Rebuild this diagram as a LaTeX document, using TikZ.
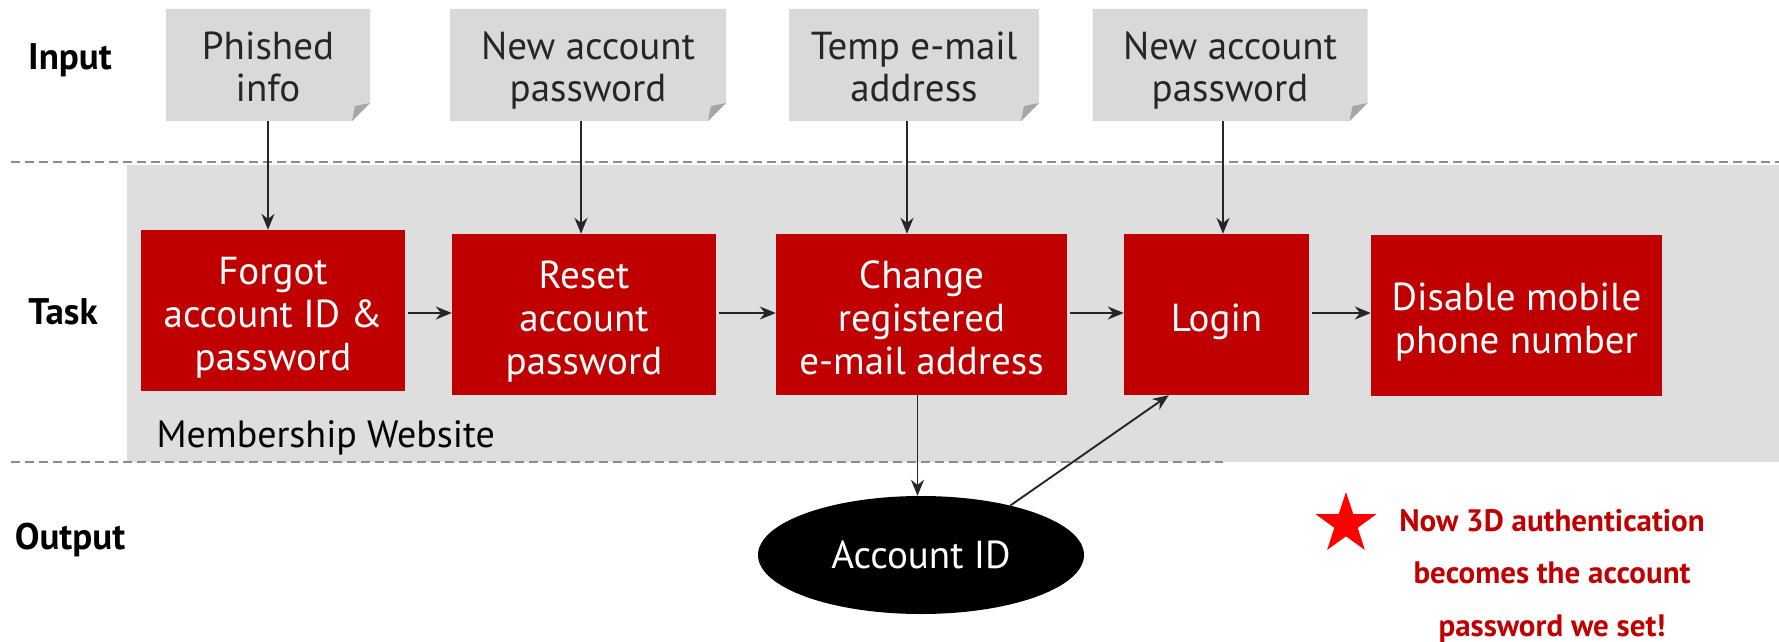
\documentclass[tikz,border=0pt]{standalone}
\usepackage{fontspec}
\setmainfont{PT Sans}
\usetikzlibrary{shapes.geometric,arrows.meta,calc}
\definecolor{boxred}{HTML}{C00000}
\definecolor{notegray}{HTML}{D9D9D9}
\definecolor{foldgray}{HTML}{A6A6A6}
\definecolor{panelgray}{HTML}{DEDEDE}
\definecolor{dashgray}{HTML}{8C8C8C}
\definecolor{arrowcol}{HTML}{262626}
\begin{document}
\begin{tikzpicture}[x=1pt,y=-1pt,
  notebox/.style={minimum height=112pt,inner sep=0pt,align=center,
    font=\fontsize{39}{42}\selectfont,text=black!85,text height=76pt,text depth=4pt,
    path picture={
      \fill[notegray] (path picture bounding box.north west) -- (path picture bounding box.north east)
        -- ([yshift=18pt]path picture bounding box.south east) -- ([xshift=-18pt]path picture bounding box.south east)
        -- (path picture bounding box.south west) -- cycle;
      \fill[foldgray] ([yshift=18pt]path picture bounding box.south east) -- ([xshift=-18pt]path picture bounding box.south east)
        -- ([xshift=-15pt,yshift=15pt]path picture bounding box.south east) -- cycle;
    }},
  taskbox/.style={fill=boxred,minimum height=161pt,inner sep=0pt,align=center,
    text=white,font=\fontsize{39}{43}\selectfont,text depth=4pt},
  oneline/.style={text height=37pt},
  twolines/.style={text height=80pt},
  threelines/.style={text height=123pt},
  lanelabel/.style={font=\fontsize{37}{42}\selectfont\bfseries,text=black},
  conn/.style={draw=arrowcol,line width=1.9pt,-{Stealth[length=16pt,width=13pt]}},
  laneline/.style={draw=dashgray,line width=1.8pt,dash pattern=on 9pt off 5pt}
]
\useasboundingbox (0,0) rectangle (1779,642);
% panel
\fill[panelgray] (127,165) rectangle (1779,462);
\coordinate (d1a) at (11,162); \coordinate (d1b) at (1779,162);
\coordinate (d2a) at (11,462); \coordinate (d2b) at (1223,462);
\draw[laneline] (d1a) -- (d1b);
\draw[laneline] (d2a) -- (d2b);
% lane labels
\node[lanelabel] (lin) at (70,60) {Input};
\node[lanelabel] (ltask) at (63,312) {Task};
\node[lanelabel] (lout) at (70,540) {Output};
\node[anchor=west,font=\fontsize{38}{42}\selectfont] (mw) at (153,438) {Membership Website};
% notes
\node[notebox,minimum width=204pt] (n1) at (268,65) {Phished\\info};
\node[notebox,minimum width=276pt] (n2) at (588,65) {New account\\password};
\node[notebox,minimum width=250pt] (n3) at (914,65) {Temp e-mail\\address};
\node[notebox,minimum width=275pt] (n4) at (1230,65) {New account\\password};
% tasks
\node[taskbox,threelines,minimum width=264pt] (r1) at (273,310.5) {Forgot\\account ID \&\\password};
\node[taskbox,threelines,minimum width=264pt] (r2) at (584,314.5) {Reset\\account\\password};
\node[taskbox,threelines,minimum width=291pt] (r3) at (921.5,314.5) {Change\\registered\\e-mail address};
\node[taskbox,oneline,minimum width=185pt] (r4) at (1216.5,314.5) {Login};
\node[taskbox,twolines,minimum width=291pt] (r5) at (1516.5,315.5) {Disable mobile\\phone number};
% output
\node[ellipse,fill=black,minimum width=326pt,minimum height=118pt,inner sep=0pt,
  text=white,font=\fontsize{39}{42}\selectfont] (acc) at (921,555) {Account ID};
% note
\node[star,star points=5,star point ratio=2.6,fill=red,minimum size=64pt,inner sep=0pt] (st) at (1346,524) {};
\node[align=center,inner sep=0pt,text=boxred,font=\fontsize{31}{52.5}\selectfont\bfseries] (msg) at (1552,576)
  {Now 3D authentication\\becomes the account\\password we set!};
% connectors
\draw[conn] (n1.south) -- (n1.south |- r1.north);
\draw[conn] ([xshift=-7pt]n2.south) -- ([xshift=-7pt]n2.south |- r2.north);
\draw[conn] ([xshift=-7pt]n3.south) -- ([xshift=-7pt]n3.south |- r3.north);
\draw[conn] ([xshift=-7pt]n4.south) -- ([xshift=-7pt]n4.south |- r4.north);
\draw[conn] ([xshift=3pt]r1.east |- 0,313) -- (r2.west |- 0,313);
\draw[conn] ([xshift=3pt]r2.east |- 0,313) -- (r3.west |- 0,313);
\draw[conn] ([xshift=3pt]r3.east |- 0,313) -- (r4.west |- 0,313);
\draw[conn] ([xshift=3pt]r4.east |- 0,313) -- (r5.west |- 0,313);
\draw[conn] ([xshift=-4pt]r3.south) -- ([xshift=-4pt]r3.south |- acc.north);
\draw[conn] (acc.29) -- ([xshift=45pt]r4.south west);
\end{tikzpicture}
\end{document}
